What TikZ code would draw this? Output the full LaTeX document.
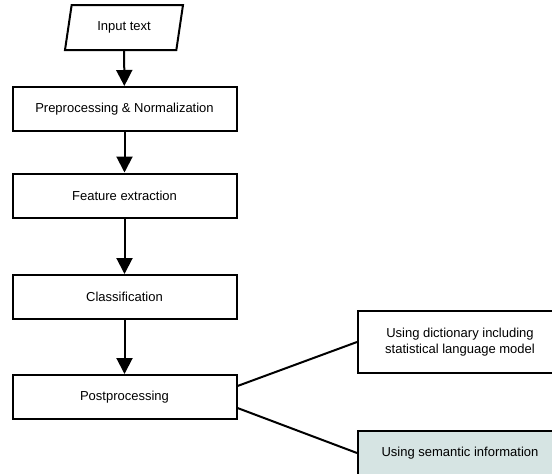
\documentclass[tikz,border=0pt]{standalone}
\usepackage{fontspec}
\setmainfont{Liberation Sans}
\usetikzlibrary{arrows.meta,shapes.geometric}
\definecolor{semfill}{RGB}{214,228,227}
\begin{document}
\begin{tikzpicture}[x=1pt,y=-1pt,line width=2pt,
    font=\fontsize{13}{16.5}\selectfont]

        \useasboundingbox (0,0) rectangle (552,474);

        \begin{scope}[every node/.style={draw,minimum width=224pt,minimum height=44pt}]
          \node (prep) at (124.5,109) {Preprocessing \& Normalization};
          \node (feat) at (124.5,195.5) {Feature extraction};
          \node (clas) at (124.5,297) {Classification};
          \node (post) at (124.5,397) {Postprocessing};
          \node[minimum width=204pt,minimum height=62pt,align=center] (dict) at (460,342)
            {Using dictionary including\\statistical language model};
          \node[minimum width=204pt,fill=semfill] (sem) at (460,453) {Using semantic information};
        \end{scope}

        \node[draw,trapezium,trapezium left angle=70,trapezium right angle=110,
          trapezium stretches body,minimum width=118pt,minimum height=45pt] (input) at (124,27.5) {Input text};

        \begin{scope}[every edge/.style={draw,-{Triangle[width=16pt,length=16pt]}}]
          \path (input) edge (prep);
          \path (prep)  edge (feat);
          \path (feat)  edge (clas);
          \path (clas)  edge (post);
        \end{scope}

        \draw ([yshift=11pt]post.east) -- (dict.west);
        \draw ([yshift=-11pt]post.east) -- (sem.west);

      \end{tikzpicture}
\end{document}
